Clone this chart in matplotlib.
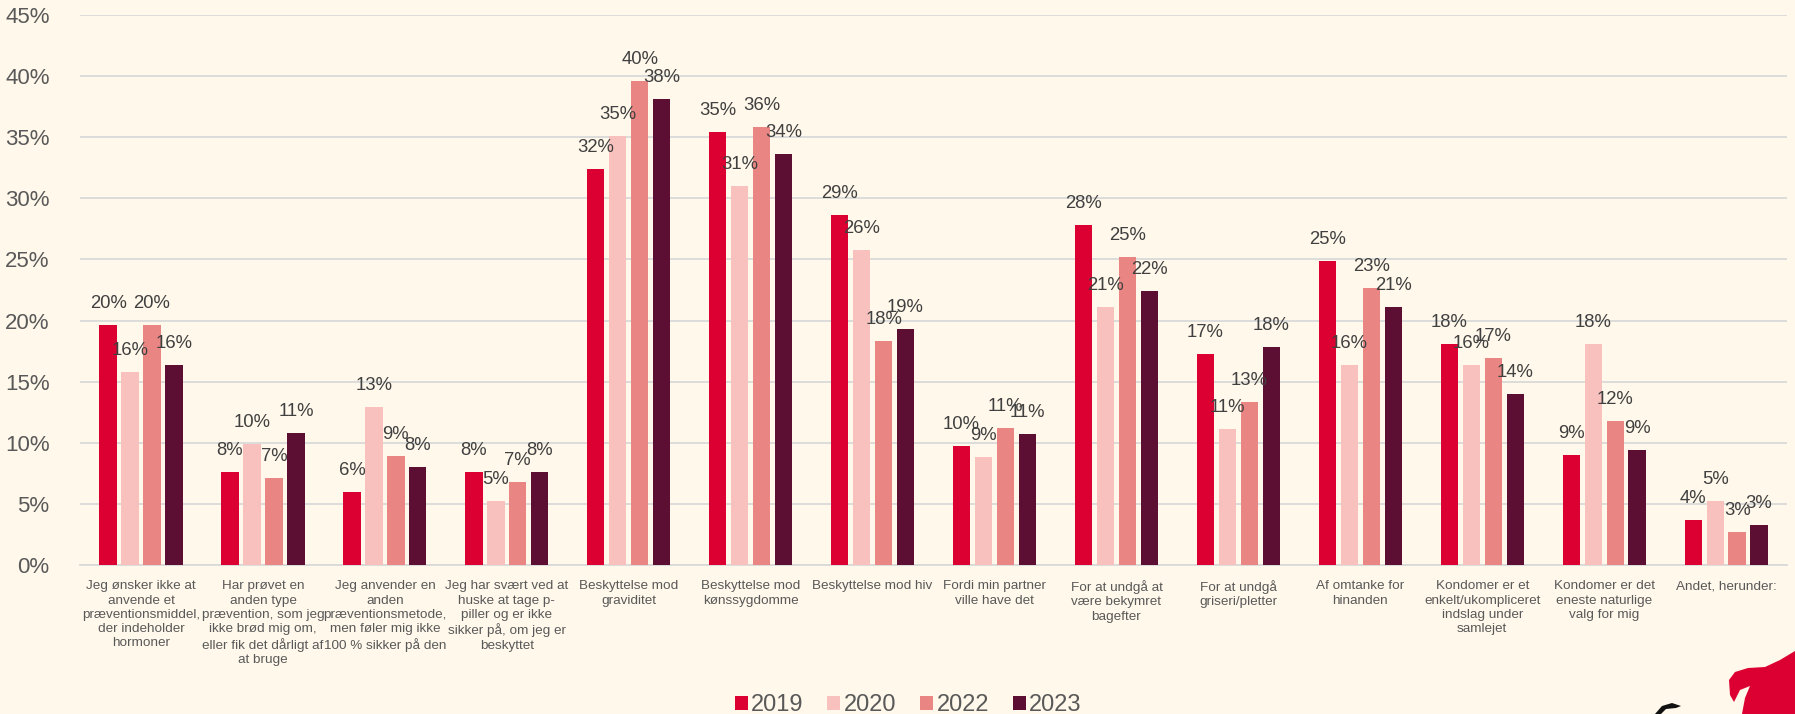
import numpy as np
import matplotlib
matplotlib.use('Agg')
import matplotlib.pyplot as plt
from matplotlib.patches import Polygon

plt.rcParams['font.family'] = ['Liberation Sans', 'DejaVu Sans']

# ── data ─────────────────────────────────────────────────────────────────────
categories = [
    "Jeg ønsker ikke at\nanvende et\npræventionsmiddel,\nder indeholder\nhormoner",
    "Har prøvet en\nanden type\nprævention, som jeg\nikke brød mig om,\neller fik det dårligt af\nat bruge",
    "Jeg anvender en\nanden\npræventionsmetode,\nmen føler mig ikke\n100 % sikker på den",
    "Jeg har svært ved at\nhuske at tage p-\npiller og er ikke\nsikker på, om jeg er\nbeskyttet",
    "Beskyttelse mod\ngraviditet",
    "Beskyttelse mod\nkønssygdomme",
    "Beskyttelse mod hiv",
    "Fordi min partner\nville have det",
    "For at undgå at\nvære bekymret\nbagefter",
    "For at undgå\ngriseri/pletter",
    "Af omtanke for\nhinanden",
    "Kondomer er et\nenkelt/ukompliceret\nindslag under\nsamlejet",
    "Kondomer er det\neneste naturlige\nvalg for mig",
    "Andet, herunder:",
]
years = ["2019", "2020", "2022", "2023"]
v2019 = [19.6, 7.6, 6.0, 7.6, 32.4, 35.4, 28.6, 9.7, 27.8, 17.3, 24.9, 18.1, 9.0, 3.7]
v2020 = [15.8, 9.9, 12.9, 5.2, 35.1, 31.0, 25.8, 8.8, 21.1, 11.1, 16.4, 16.4, 18.1, 5.2]
v2022 = [19.6, 7.1, 8.9, 6.8, 39.6, 35.8, 18.3, 11.2, 25.2, 13.3, 22.7, 16.9, 11.8, 2.7]
v2023 = [16.4, 10.8, 8.0, 7.6, 38.1, 33.6, 19.3, 10.7, 22.4, 17.8, 21.1, 14.0, 9.4, 3.3]
series = [v2019, v2020, v2022, v2023]
colors = ['#DC0032', '#F8C1BE', '#E98683', '#5C0E33']

BG = '#FFF8EB'

fig = plt.figure(figsize=(17.95, 7.14), dpi=100, facecolor=BG)
ax = fig.add_axes([0.0446, 0.2087, 0.951, 0.7703])
ax.set_facecolor(BG)

x = np.arange(len(categories))
slot = 0.18
bw = 0.142
for i, (vals, col, yr) in enumerate(zip(series, colors, years)):
    xs = x + (i - 1.5) * slot
    ax.bar(xs, vals, width=bw, color=col, label=yr, zorder=3)
    for xi, v in zip(xs, vals):
        ax.annotate(f"{round(v)}%", (xi, v), xytext=(0, 15.5), textcoords='offset points',
                    ha='center', va='center', fontsize=13.3, color='#404040', zorder=4)

ax.set_xlim(-0.5, len(categories) - 0.5)
ax.set_ylim(0, 45)
ax.set_yticks(np.arange(0, 46, 5))
ax.set_yticklabels([f"{t}%" for t in range(0, 46, 5)])
ax.yaxis.grid(True, color='#D9D9D9', linewidth=1.3, zorder=0)
ax.set_axisbelow(True)
for sp in ['top', 'right', 'left']:
    ax.spines[sp].set_visible(False)
ax.spines['bottom'].set_color('#D9D9D9')
ax.spines['bottom'].set_linewidth(1.3)
ax.tick_params(axis='y', length=0, pad=22, labelsize=16, labelcolor='#595959')
ax.tick_params(axis='x', length=0, pad=11)
ax.set_xticks(x)
ax.set_xticklabels(categories, fontsize=9.7, color='#595959', linespacing=1.25, va='top')

leg = fig.legend(loc='center', bbox_to_anchor=(0.506, 0.012), ncol=4, frameon=False,
                 fontsize=17, handlelength=0.55, handleheight=0.55, handletextpad=0.15,
                 columnspacing=1.0)
for t in leg.get_texts():
    t.set_color('#595959')

# logo fragment in the lower right corner
flame_px = [(1795, 651), (1780, 660), (1765, 667), (1748, 668), (1735, 672),
            (1729, 680), (1730, 695), (1734, 702), (1740, 690), (1750, 686),
            (1745, 698), (1742, 714), (1795, 714)]
flame = Polygon([(px, 714 - py) for px, py in flame_px], closed=True, transform=None,
                facecolor='#DC0032', edgecolor='none')
fig.patches.append(flame)
swirl_px = [(1655, 714), (1662, 706), (1672, 703), (1681, 706),
            (1676, 708), (1666, 709), (1661, 714)]
swirl = Polygon([(px, 714 - py) for px, py in swirl_px], closed=True, transform=None,
                facecolor='#111111', edgecolor='none')
fig.patches.append(swirl)

plt.savefig("out.png", dpi=100, facecolor=BG)
plt.close()
